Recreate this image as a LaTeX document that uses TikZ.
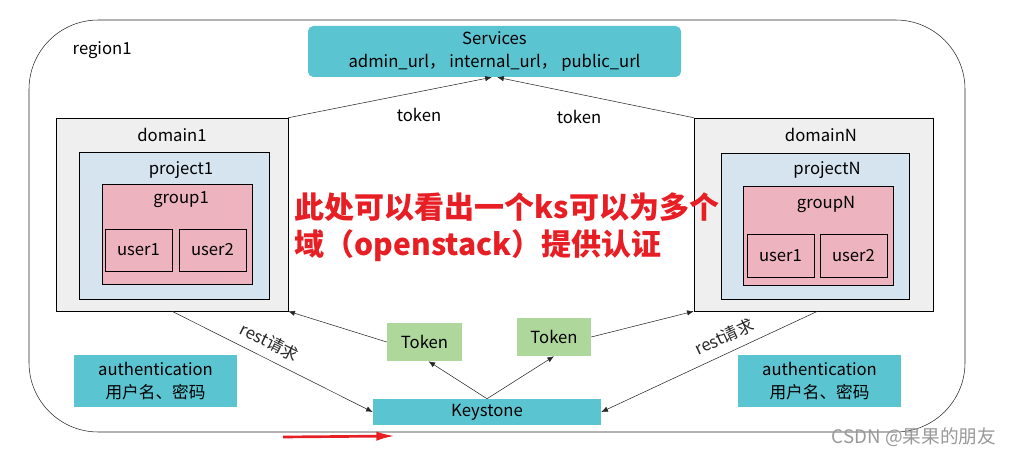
\documentclass[tikz,border=0pt]{standalone}
\usepackage{fontspec}
\setmainfont{Noto Sans CJK SC}
\usetikzlibrary{arrows.meta}
\definecolor{tealbox}{RGB}{91,196,209}
\definecolor{greybox}{RGB}{239,239,239}
\definecolor{bluebox}{RGB}{214,228,240}
\definecolor{pinkbox}{RGB}{237,179,191}
\definecolor{greenbox}{RGB}{174,215,156}
\definecolor{notered}{RGB}{232,30,37}

\begin{document}
\begin{tikzpicture}[x=0.75pt, y=-0.75pt, font=\fontsize{12.5}{17}\selectfont,
  box/.style={draw, inner sep=0pt},
  conn/.style={-{Latex[length=5pt,width=4pt]}, black!85}]
\useasboundingbox (0,0) rectangle (1013,456);
\draw[black!85, rounded corners=52pt] (29,20) rectangle (965,432); % region frame
\node[anchor=west] (reg) at (68,50) {region1};
\node[fill=tealbox, rounded corners=4pt, minimum width=279.75pt, minimum height=38.25pt, align=center, inner sep=0pt] (sv) at (494.5,51.5) {Services\\admin\_url， internal\_url， public\_url}; % services
% domain1
\node[box, fill=greybox, minimum width=174pt, minimum height=144.75pt] (d1) at (172,214.5) {};
\node[box, fill=bluebox, minimum width=142.5pt, minimum height=110.25pt] (p1) at (174,225.5) {};
\node[box, fill=pinkbox, minimum width=112.5pt, minimum height=75pt] (g1) at (177,234) {};
\node[box, fill=pinkbox, minimum width=50.25pt, minimum height=31.5pt] (u11) at (138.5,250) {user1};
\node[box, fill=pinkbox, minimum width=50.25pt, minimum height=31.5pt] (u12) at (212.5,250) {user2};
\node (d1t) at (172,135) {domain1};
\node (p1t) at (181,170) {project1};
\node (g1t) at (181,200) {group1};
% domainN
\node[box, fill=greybox, minimum width=179.25pt, minimum height=144.75pt] (dN) at (813.5,214.5) {};
\node[box, fill=bluebox, minimum width=141pt, minimum height=109.5pt] (pN) at (815,226) {};
\node[box, fill=pinkbox, minimum width=112.5pt, minimum height=74.25pt] (gN) at (818,235.5) {};
\node[box, fill=pinkbox, minimum width=50.25pt, minimum height=32.25pt] (uN1) at (780.5,255.5) {user1};
\node[box, fill=pinkbox, minimum width=50.25pt, minimum height=32.25pt] (uN2) at (853.5,255.5) {user2};
\node (dNt) at (821,135) {domainN};
\node (pNt) at (827,170) {projectN};
\node (gNt) at (826,204) {groupN};
% note
\node[anchor=west, text=notered, font=\fontsize{22.5}{26}\selectfont\bfseries] (n1) at (290,207) {此处可以看出一个ks可以为多个};
\node[anchor=west, text=notered, font=\fontsize{22.5}{26}\selectfont\bfseries] (n2) at (290,246) {域（openstack）提供认证};
% keystone and tokens
\node[fill=tealbox, minimum width=171pt, minimum height=19.5pt, inner sep=0pt] (ks) at (487,412) {Keystone};
\node[fill=greenbox, minimum width=56.25pt, minimum height=28.5pt, inner sep=0pt] (tkL) at (424.5,342) {Token};
\node[fill=greenbox, minimum width=55.5pt, minimum height=28.5pt, inner sep=0pt] (tkR) at (554,337) {Token};
\node[fill=tealbox, minimum width=122.25pt, minimum height=39pt, align=center, inner sep=0pt] (auL) at (155.5,381) {authentication\\用户名、密码};
\node[fill=tealbox, minimum width=122.25pt, minimum height=39pt, align=center, inner sep=0pt] (auR) at (819.5,381) {authentication\\用户名、密码};
% connectors
\draw[conn] (d1.north east) -- ([xshift=-2pt]sv.south);
\draw[conn] (dN.north west) -- ([xshift=2pt]sv.south);
\node (tk1) at (419,115) {token};
\node (tk2) at (579,117) {token};
\draw[conn] (d1.south) -- node[pos=0.45, above=3pt, sloped] {rest请求} (ks.west);
\draw[conn] ([xshift=3pt]dN.south) -- node[pos=0.4, above=3pt, sloped] {rest请求} (ks.east);
\draw[conn] (tkL.west) -- (d1.south east);
\draw[conn] (tkR.east) -- (dN.south west);
\draw[conn] (ks.north) -- ([xshift=3pt]tkL.south);
\draw[conn] (ks.north) -- (tkR.south);
\draw[notered, line width=2pt, -{Latex[length=14pt,width=7pt]}] (283,437) -- (395,436); % red arrow
\node[text=black!40, font=\fontsize{14}{16}\selectfont] (wm) at (914,437) {CSDN @果果的朋友};
\end{tikzpicture}
\end{document}
